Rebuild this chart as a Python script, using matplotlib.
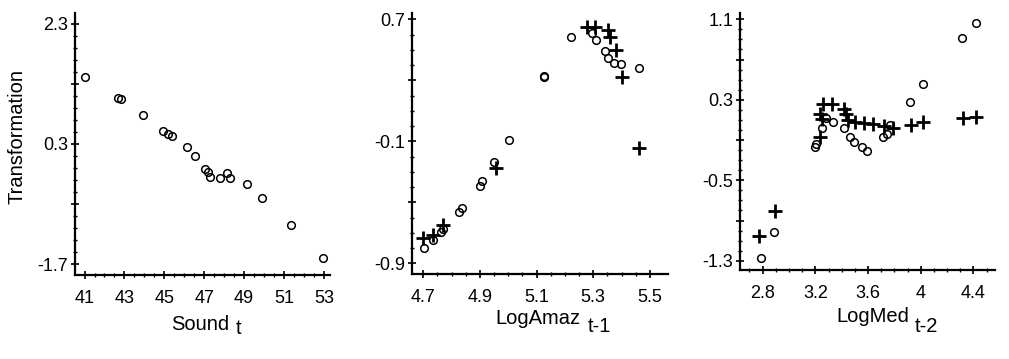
import numpy as np
import matplotlib
matplotlib.use("Agg")
import matplotlib.pyplot as plt
from matplotlib.ticker import MultipleLocator, FixedLocator

plt.rcParams['font.family'] = ['Liberation Sans', 'DejaVu Sans']

# Panel 1: Sound t
sound_x = [41.03, 42.69, 42.81, 43.92, 44.92, 45.17, 45.37, 46.14, 46.53, 47.03,
           47.17, 47.28, 47.79, 48.15, 48.27, 49.14, 49.90, 51.36, 52.94]
sound_y = [1.41, 1.07, 1.05, 0.79, 0.52, 0.47, 0.43, 0.25, 0.10, -0.11,
           -0.16, -0.25, -0.27, -0.19, -0.26, -0.37, -0.60, -1.05, -1.59]

# Panel 2: LogAmaz t-1
amaz_circ_x = [4.702, 4.733, 4.761, 4.770, 4.827, 4.836, 4.900, 4.909, 4.950, 5.001,
               5.128, 5.128, 5.220, 5.297, 5.311, 5.341, 5.353, 5.373, 5.397, 5.462]
amaz_circ_y = [-0.802, -0.747, -0.693, -0.675, -0.562, -0.539, -0.391, -0.360, -0.237, -0.091,
               0.320, 0.329, 0.586, 0.608, 0.564, 0.492, 0.444, 0.411, 0.405, 0.383]
amaz_plus_x = [4.700, 4.735, 4.768, 4.957, 5.279, 5.306, 5.353, 5.359, 5.382, 5.400, 5.462]
amaz_plus_y = [-0.736, -0.714, -0.649, -0.273, 0.652, 0.652, 0.630, 0.586, 0.499, 0.324, -0.146]

# Panel 3: LogMed t-2
med_circ_x = [2.785, 2.889, 3.197, 3.203, 3.248, 3.278, 3.336, 3.420, 3.463, 3.496,
              3.556, 3.594, 3.711, 3.741, 3.766, 3.919, 4.020, 4.316, 4.418]
med_circ_y = [-1.277, -1.011, -0.166, -0.140, 0.024, 0.116, 0.082, 0.024, -0.067, -0.117,
              -0.173, -0.206, -0.067, -0.040, 0.049, 0.281, 0.457, 0.911, 1.060]
med_plus_x = [2.775, 2.894, 3.235, 3.235, 3.250, 3.262, 3.324, 3.420, 3.430, 3.450,
              3.501, 3.572, 3.640, 3.723, 3.792, 3.926, 4.020, 4.321, 4.423]
med_plus_y = [-1.054, -0.803, -0.067, 0.159, 0.110, 0.258, 0.258, 0.212, 0.159, 0.103,
              0.082, 0.066, 0.056, 0.039, 0.022, 0.049, 0.082, 0.122, 0.132]

fig = plt.figure(figsize=(10.09, 3.59), dpi=100)

ax1 = fig.add_axes([0.0743, 0.234, 0.2527, 0.7298])
ax2 = fig.add_axes([0.4083, 0.2368, 0.2537, 0.727])
ax3 = fig.add_axes([0.7334, 0.2479, 0.2527, 0.716])

circ = dict(linestyle='none', marker='o', markersize=5.5, markerfacecolor='none',
            markeredgecolor='black', markeredgewidth=1.1)
plus = dict(linestyle='none', marker='+', markersize=10, color='black', markeredgewidth=2)

ax1.plot(sound_x, sound_y, **circ)
ax2.plot(amaz_circ_x, amaz_circ_y, **circ)
ax2.plot(amaz_plus_x, amaz_plus_y, **plus)
ax3.plot(med_circ_x, med_circ_y, **circ)
ax3.plot(med_plus_x, med_plus_y, **plus)

ax1.set_xlim(40.52, 53.3)
ax1.set_ylim(-1.88, 2.48)
ax1.set_xticks([41, 43, 45, 47, 49, 51, 53])
ax1.set_yticks([2.3, 1.3, 0.3, -0.7, -1.7])
ax1.set_yticklabels(['2.3', '', '0.3', '', '-1.7'])
ax1.xaxis.set_minor_locator(MultipleLocator(0.5))
ax1.yaxis.set_minor_locator(FixedLocator(np.arange(-1.7, 2.31, 0.2)))

ax2.set_xlim(4.66, 5.564)
ax2.set_ylim(-0.97, 0.741)
ax2.set_xticks([4.7, 4.9, 5.1, 5.3, 5.5])
ax2.set_yticks([0.7, 0.3, -0.1, -0.5, -0.9])
ax2.set_yticklabels(['0.7', '', '-0.1', '', '-0.9'])
ax2.xaxis.set_minor_locator(FixedLocator(np.arange(4.7, 5.51, 0.05)))
ax2.yaxis.set_minor_locator(FixedLocator(np.arange(-0.9, 0.71, 0.1)))

ax3.set_xlim(2.628, 4.564)
ax3.set_ylim(-1.392, 1.163)
ax3.set_xticks([2.8, 3.2, 3.6, 4.0, 4.4])
ax3.set_xticklabels(['2.8', '3.2', '3.6', '4', '4.4'])
ax3.set_yticks([1.1, 0.7, 0.3, -0.1, -0.5, -0.9, -1.3])
ax3.set_yticklabels(['1.1', '', '0.3', '', '-0.5', '', '-1.3'])
ax3.xaxis.set_minor_locator(FixedLocator(np.arange(2.7, 4.51, 0.1)))
ax3.yaxis.set_minor_locator(FixedLocator(np.arange(-1.3, 1.11, 0.1)))

for ax in (ax1, ax2, ax3):
    for s in ('top', 'right'):
        ax.spines[s].set_visible(False)
    for s in ('left', 'bottom'):
        ax.spines[s].set_linewidth(1.6)
    ax.tick_params(which='major', direction='inout', length=6, width=1.2,
                   labelsize=13)
    ax.tick_params(axis='x', which='major', pad=8)
    ax.tick_params(axis='y', which='major', pad=2)
    ax.tick_params(which='minor', direction='inout', length=3, width=1)

ax1.set_ylabel('Transformation', fontsize=14.5)
ax1.yaxis.set_label_coords(-0.19, 0.53)

# x labels with subscripts
fig.text(200 / 1009, 1 - 325 / 359, 'Sound', fontsize=14.5, ha='center', va='center')
fig.text(236 / 1009, 1 - 328 / 359, 't', fontsize=14.5, ha='left', va='center')
fig.text(538 / 1009, 1 - 318 / 359, 'LogAmaz', fontsize=14.5, ha='center', va='center')
fig.text(588 / 1009, 1 - 327 / 359, 't-1', fontsize=14.5, ha='left', va='center')
fig.text(873 / 1009, 1 - 316 / 359, 'LogMed', fontsize=14.5, ha='center', va='center')
fig.text(915 / 1009, 1 - 327 / 359, 't-2', fontsize=14.5, ha='left', va='center')

plt.savefig('out.png', dpi=100)
